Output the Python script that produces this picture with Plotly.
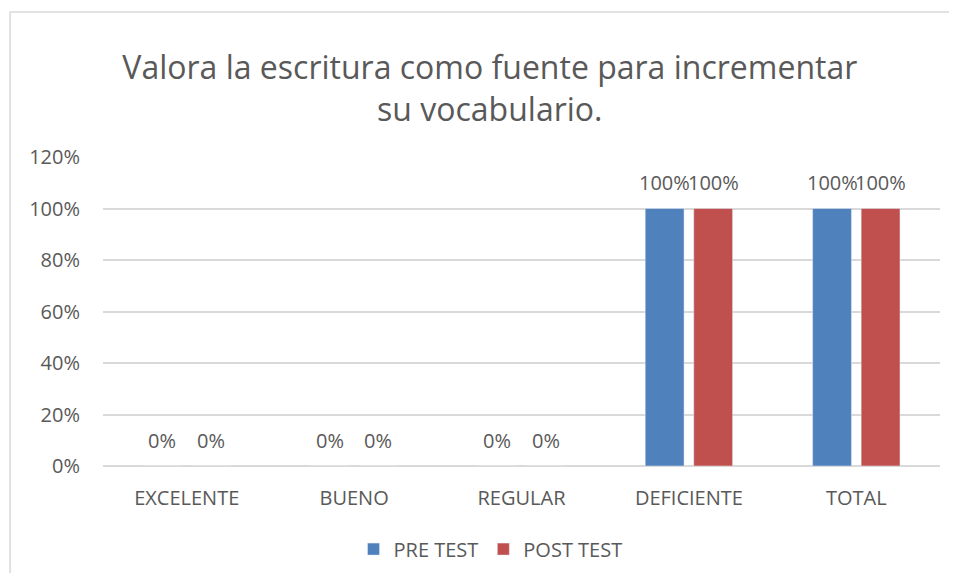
import plotly.graph_objects as go

categories = ["EXCELENTE", "BUENO", "REGULAR", "DEFICIENTE", "TOTAL"]
pre_test = [0, 0, 0, 1.0, 1.0]
post_test = [0, 0, 0, 1.0, 1.0]
series_names = ["PRE TEST", "POST TEST"]
series_colors = ["#4f81bd", "#c0504d"]
title_lines = ["Valora la escritura como fuente para incrementar", "su vocabulario."]

FONT = "Open Sans"
GREY = "#595959"
BARGAP = 0.42
GROUPGAP = 0.2

fig = go.Figure()
for name, vals, color in zip(series_names, [pre_test, post_test], series_colors):
    fig.add_trace(go.Bar(x=categories, y=vals, name=name, marker_color=color))

# data labels (placed through axis coordinates)
slot = (1 - BARGAP) / 2
annotations = []
for j, vals in enumerate([pre_test, post_test]):
    off = (j - 0.5) * slot
    for i, v in enumerate(vals):
        annotations.append(dict(
            x=i + off, y=v, xref="x", yref="y", text=f"{v:.0%}", showarrow=False,
            yanchor="middle", yshift=26, font=dict(family=FONT, size=20, color=GREY)))

fig.update_layout(
    width=941, height=565,
    margin=dict(l=95, r=9, t=149, b=107, autoexpand=False),
    paper_bgcolor="white", plot_bgcolor="white",
    bargap=BARGAP, bargroupgap=GROUPGAP,
    title=dict(text="<br>".join(title_lines), x=0.512, xanchor="center", y=0.874, yanchor="middle",
               font=dict(family=FONT, size=32, color=GREY)),
    font=dict(family=FONT, color=GREY),
    legend=dict(orientation="h", x=0.463, xanchor="center", y=-0.269, yanchor="middle",
                font=dict(family=FONT, size=20, color=GREY), itemwidth=30),
    annotations=annotations,
    xaxis=dict(showgrid=False, showline=False, ticks="outside", ticklen=14, tickcolor="rgba(0,0,0,0)",
               tickfont=dict(family=FONT, size=20, color=GREY)),
    yaxis=dict(range=[0, 1.2], dtick=0.2, tickformat=".0%", showgrid=True, gridcolor="#d9d9d9",
               gridwidth=1.5, zeroline=True, zerolinecolor="#d9d9d9", zerolinewidth=1.5,
               ticks="outside", ticklen=18, tickcolor="rgba(0,0,0,0)",
               tickfont=dict(family=FONT, size=20, color=GREY)),
    shapes=[dict(type="rect", xref="paper", yref="paper", x0=-0.111, x1=1.05, y0=-0.45, y1=1.469,
                 line=dict(color="#d9d9d9", width=1.5), fillcolor="rgba(0,0,0,0)", layer="below")],
)

fig.write_html("out.html")
